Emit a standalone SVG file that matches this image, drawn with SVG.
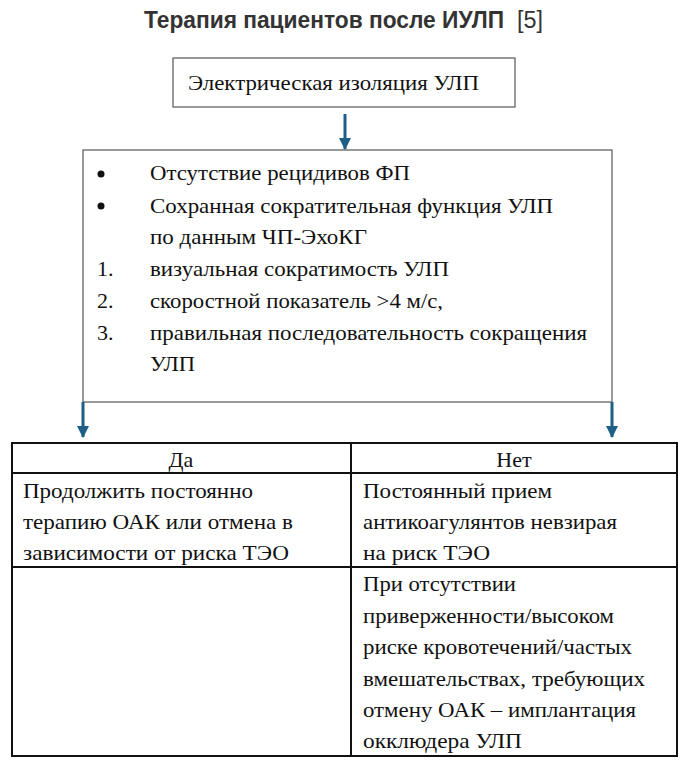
<svg xmlns="http://www.w3.org/2000/svg" width="690" height="768" viewBox="0 0 690 768">
<defs>
<style>
.t{font-family:"Liberation Serif","DejaVu Serif","Noto Serif","Times New Roman",serif;font-size:22px;fill:#111}
.box{fill:#fff;stroke:#555;stroke-width:1.2}
.tbl{fill:none;stroke:#111;stroke-width:2}
.conn{stroke:#1d5f86;stroke-width:3;fill:none}
.ttl{font-family:"Liberation Sans",Arial,sans-serif;fill:#333}
</style>
<marker id="ah" viewBox="0 0 12 12" refX="11" refY="6" markerWidth="12" markerHeight="12" markerUnits="userSpaceOnUse" orient="auto">
<path d="M0,0 L12,6 L0,12 Z" fill="#1d5f86"/>
</marker>
</defs>
<rect width="690" height="768" fill="#fff"/>
<g id="title">
<text class="ttl" x="144" y="28" font-size="23" font-weight="bold" textLength="360" lengthAdjust="spacingAndGlyphs">Терапия пациентов после ИУЛП</text>
<text class="ttl" x="517" y="28" font-size="23" textLength="26" lengthAdjust="spacingAndGlyphs">[5]</text>
</g>
<g id="node-isolation">
<rect class="box" x="173" y="58" width="342" height="49"/>
<text class="t" x="188" y="90" textLength="291" lengthAdjust="spacingAndGlyphs">Электрическая изоляция УЛП</text>
</g>
<g id="node-criteria">
<rect class="box" x="83" y="150" width="529" height="252"/>
<circle cx="101" cy="174" r="3.5" fill="#111"/>
<circle cx="101" cy="206" r="3.5" fill="#111"/>
<text class="t" x="150" y="180" textLength="260" lengthAdjust="spacingAndGlyphs">Отсутствие рецидивов ФП</text>
<text class="t" x="150" y="213" textLength="403" lengthAdjust="spacingAndGlyphs">Сохранная сократительная функция УЛП</text>
<text class="t" x="150" y="244" textLength="217" lengthAdjust="spacingAndGlyphs">по данным ЧП-ЭхоКГ</text>
<text class="t" x="97" y="276">1.</text>
<text class="t" x="150" y="276" textLength="299" lengthAdjust="spacingAndGlyphs">визуальная сократимость УЛП</text>
<text class="t" x="97" y="308">2.</text>
<text class="t" x="150" y="308" textLength="293" lengthAdjust="spacingAndGlyphs">скоростной показатель &gt;4 м/с,</text>
<text class="t" x="97" y="340">3.</text>
<text class="t" x="150" y="340" textLength="437" lengthAdjust="spacingAndGlyphs">правильная последовательность сокращения</text>
<text class="t" x="150" y="371" textLength="45" lengthAdjust="spacingAndGlyphs">УЛП</text>
</g>
<g id="connectors">
<line class="conn" x1="345" y1="114" x2="345" y2="149" marker-end="url(#ah)"/>
<line class="conn" x1="83" y1="402" x2="83" y2="437" marker-end="url(#ah)"/>
<line class="conn" x1="612" y1="402" x2="612" y2="437" marker-end="url(#ah)"/>
</g>
<g id="node-table">
<rect class="tbl" x="12" y="443" width="665" height="313"/>
<line class="tbl" x1="351" y1="443" x2="351" y2="756"/>
<line class="tbl" x1="12" y1="473" x2="677" y2="473"/>
<line class="tbl" x1="12" y1="567" x2="677" y2="567"/>
<text class="t" x="181" y="467" text-anchor="middle">Да</text>
<text class="t" x="514" y="467" text-anchor="middle">Нет</text>
<text class="t" x="23" y="498" textLength="230" lengthAdjust="spacingAndGlyphs">Продолжить постоянно</text>
<text class="t" x="23" y="529" textLength="270" lengthAdjust="spacingAndGlyphs">терапию ОАК или отмена в</text>
<text class="t" x="23" y="560" textLength="266" lengthAdjust="spacingAndGlyphs">зависимости от риска ТЭО</text>
<text class="t" x="363" y="498" textLength="189" lengthAdjust="spacingAndGlyphs">Постоянный прием</text>
<text class="t" x="363" y="529" textLength="254" lengthAdjust="spacingAndGlyphs">антикоагулянтов невзирая</text>
<text class="t" x="363" y="560" textLength="127" lengthAdjust="spacingAndGlyphs">на риск ТЭО</text>
<text class="t" x="363" y="591" textLength="153" lengthAdjust="spacingAndGlyphs">При отсутствии</text>
<text class="t" x="363" y="623" textLength="251" lengthAdjust="spacingAndGlyphs">приверженности/высоком</text>
<text class="t" x="363" y="654" textLength="269" lengthAdjust="spacingAndGlyphs">риске кровотечений/частых</text>
<text class="t" x="363" y="686" textLength="282" lengthAdjust="spacingAndGlyphs">вмешательствах, требующих</text>
<text class="t" x="363" y="717" textLength="273" lengthAdjust="spacingAndGlyphs">отмену ОАК – имплантация</text>
<text class="t" x="363" y="748" textLength="159" lengthAdjust="spacingAndGlyphs">окклюдера УЛП</text>
</g>
</svg>
